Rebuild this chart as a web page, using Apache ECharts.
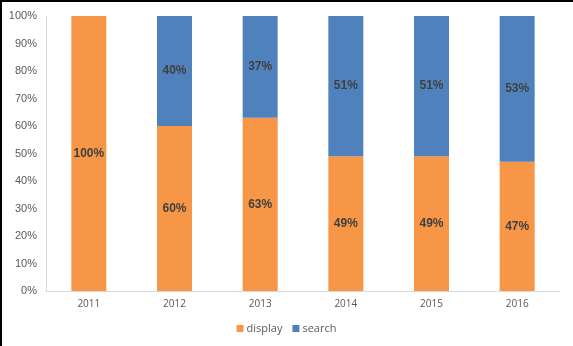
<!DOCTYPE html>
<html>
<head>
<meta charset="utf-8">
<script src="https://cdn.jsdelivr.net/npm/echarts@6/dist/echarts.min.js"></script>
<style>
html,body{margin:0;padding:0;background:#fff;}
#wrap{position:relative;width:573px;height:346px;}
#chart{position:absolute;left:0;top:0;width:573px;height:346px;}
#frame{position:absolute;left:0;top:0;width:573px;height:346px;border-top:2px solid #000;border-left:2px solid #000;box-sizing:border-box;pointer-events:none;}
</style>
</head>
<body>
<div id="wrap"><div id="chart"></div><div id="frame"></div></div>
<script>
const categories = ['2011', '2012', '2013', '2014', '2015', '2016'];
const displayValues = [100, 60, 63, 49, 49, 47];
const searchValues = [0, 40, 37, 51, 51, 53];
const seriesNames = ['display', 'search'];

const chart = echarts.init(document.getElementById('chart'));
const labelStyle = {
  show: true,
  position: 'inside',
  formatter: p => p.value > 0 ? p.value + '%' : '',
  color: '#404040',
  fontWeight: 'bold',
  fontSize: 12,
  fontFamily: 'Liberation Sans, Arial, sans-serif'
};
chart.setOption({
  animation: false,
  grid: { left: 46, right: 13, top: 16, bottom: 55, containLabel: false },
  legend: {
    data: seriesNames,
    bottom: 7,
    left: 'center',
    itemWidth: 7,
    itemHeight: 7,
    itemGap: 10,
    icon: 'rect',
    textStyle: { color: '#595959', fontSize: 11, fontFamily: 'Open Sans, sans-serif', padding: [0, 0, 0, -2] }
  },
  xAxis: {
    type: 'category',
    data: categories,
    axisLine: { lineStyle: { color: '#d9d9d9' } },
    axisTick: { show: false },
    axisLabel: { color: '#595959', fontSize: 10, margin: 8, fontFamily: 'Open Sans, sans-serif' }
  },
  yAxis: {
    type: 'value',
    min: 0,
    max: 100,
    interval: 10,
    axisLine: { show: true, lineStyle: { color: '#d9d9d9' } },
    axisTick: { show: false },
    splitLine: { show: false },
    axisLabel: { color: '#595959', fontSize: 11, margin: 9, formatter: '{value}%', fontFamily: 'Liberation Sans, Arial, sans-serif' }
  },
  series: [
    {
      name: seriesNames[0], type: 'bar', stack: 'total', barWidth: 35,
      data: displayValues, itemStyle: { color: '#F79646' }, label: labelStyle
    },
    {
      name: seriesNames[1], type: 'bar', stack: 'total', barWidth: 35,
      data: searchValues, itemStyle: { color: '#4F81BD' }, label: labelStyle
    }
  ]
});
</script>
</body>
</html>
